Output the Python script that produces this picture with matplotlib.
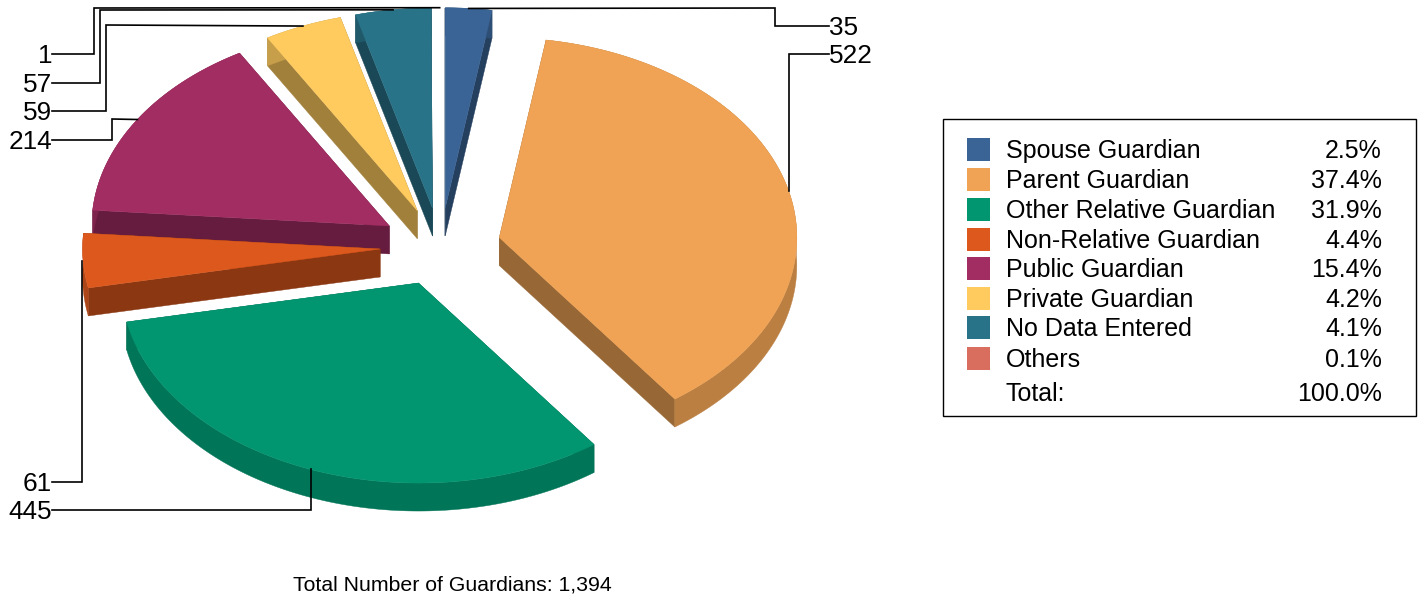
import numpy as np
import matplotlib
matplotlib.use("Agg")
import matplotlib.pyplot as plt
from matplotlib.patches import Polygon, Rectangle
from matplotlib.colors import to_rgb

plt.rcParams['font.family'] = ['Liberation Sans', 'DejaVu Sans']

categories = ['Spouse Guardian', 'Parent Guardian', 'Other Relative Guardian',
              'Non-Relative Guardian', 'Public Guardian', 'Private Guardian',
              'No Data Entered', 'Others']
counts = [35, 522, 445, 61, 214, 59, 57, 1]
percent_labels = ['2.5%', '37.4%', '31.9%', '4.4%', '15.4%', '4.2%', '4.1%', '0.1%']
total_percent = '100.0%'
total_text = 'Total Number of Guardians: 1,394'
colors = ['#3A6496', '#F0A354', '#019670', '#DD581D', '#A22D62', '#FFCB5F', '#297388', '#D96E5E']

W, H = 1421, 602
CX, CY, A, B = 440.5, 246.7, 297.5, 200.0
EXPLODE_X, EXPLODE_Y = 60.5, 39.0
DEPTH = 28.0

fig = plt.figure(figsize=(W / 100, H / 100), dpi=100)
ax = fig.add_axes([0, 0, 1, 1])
ax.set_xlim(0, W)
ax.set_ylim(H, 0)
ax.axis('off')


def shade(c, f):
    return tuple(v * f for v in to_rgb(c))


frac = np.array(counts, dtype=float) / sum(counts) * 360.0
ends = np.cumsum(frac)
starts = ends - frac
mids = (starts + ends) / 2


def apex(mid):
    r = np.radians(mid)
    return CX + EXPLODE_X * np.sin(r), CY - EXPLODE_Y * np.cos(r)


def rim(a0, t):
    r = np.radians(t)
    return a0[0] + A * np.sin(r), a0[1] - B * np.cos(r)


def draw_slice(i):
    a0 = apex(mids[i])
    ts = np.linspace(starts[i], ends[i], max(int(frac[i] * 2), 3))
    arc = np.array([rim(a0, t) for t in ts])
    c = colors[i]
    down = np.array([0, DEPTH])
    side = shade(c, 0.63)
    wall = shade(c, 0.78)
    p = np.array(a0)
    for e in (arc[0], arc[-1]):
        ax.add_patch(Polygon([p, e, e + down, p + down], fc=side, ec=side, lw=0.3, zorder=i_z[i]))
    ax.add_patch(Polygon(np.vstack([arc, (arc + down)[::-1]]), fc=wall, ec=wall, lw=0.3, zorder=i_z[i] + 0.1))
    ax.add_patch(Polygon(np.vstack([p, arc]), fc=c, ec=c, lw=0.3, zorder=i_z[i] + 0.2))


order = [7, 6, 0, 5, 4, 3, 1, 2]
i_z = {k: 2 + n for n, k in enumerate(order)}
for k in order:
    if k != 7:
        draw_slice(k)

# leader lines: anchored at the rim midpoint of each slice
anchors = [rim(apex(m), m) for m in mids]
line_kw = dict(color='black', lw=1.2, solid_joinstyle='miter', zorder=15, clip_on=False)
fs_lab = 18.8
fs = 18.0


def leader(i, text, ylab, xel, yel=None, left=True):
    ax_, ay_ = anchors[i]
    xl = 52 if left else 829
    if yel is None:
        xs, ys = [xl, xel, xel], [ylab, ylab, ay_]
    else:
        xs, ys = [xl, xel, xel, ax_], [ylab, ylab, yel, ay_]
    ax.plot(xs, ys, **line_kw)
    if left:
        ax.text(52, ylab - 0.5, text, ha='right', va='center_baseline', fontsize=fs_lab, zorder=20)
    else:
        ax.text(829, ylab - 0.5, text, ha='left', va='center_baseline', fontsize=fs_lab, zorder=20)


leader(7, str(counts[7]), 54, 94, 8)
leader(6, str(counts[6]), 83, 100, 10)
leader(5, str(counts[5]), 111, 106, 25)
leader(4, str(counts[4]), 140, 112, 119)
leader(3, str(counts[3]), 482, 82)
leader(2, str(counts[2]), 510, 311)
leader(0, str(counts[0]), 26, 775, 8, left=False)
leader(1, str(counts[1]), 54, 789, left=False)

# legend box
ax.add_patch(Rectangle((943.0, 119.0), 473, 297, fc='white', ec='black', lw=1.0, zorder=1))
rows = [149, 179, 209, 239, 268, 298, 327, 358]
for y, name, pct, c in zip(rows, categories, percent_labels, colors):
    ax.add_patch(Rectangle((967, y - 11.5), 23, 23, fc=c, ec='none', zorder=2))
    ax.text(1006, y - 0.5, name, ha='left', va='center_baseline', fontsize=fs, zorder=3)
    ax.text(1382, y - 0.5, pct, ha='right', va='center_baseline', fontsize=fs, zorder=3)
ax.text(1006, 391.5, 'Total:', ha='left', va='center_baseline', fontsize=fs, zorder=3)
ax.text(1382, 391.5, total_percent, ha='right', va='center_baseline', fontsize=fs, zorder=3)

ax.text(452, 583, total_text, ha='center', va='center_baseline', fontsize=15.3, zorder=3)

fig.savefig('out.png', dpi=100, facecolor='white')
